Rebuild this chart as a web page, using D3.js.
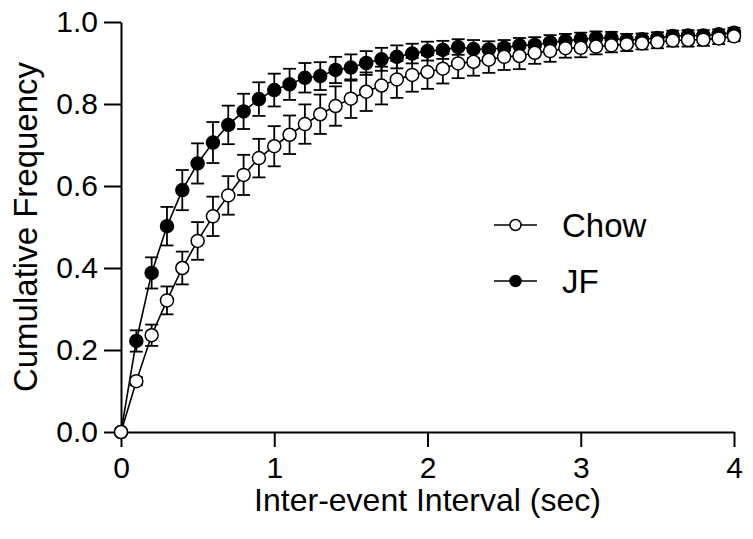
<!DOCTYPE html>
<html>
<head>
<meta charset="utf-8">
<script src="https://cdn.jsdelivr.net/npm/d3@7"></script>
<style>
  body { margin: 0; background: #fff; }
  svg text { font-family: "Liberation Sans", Arial, sans-serif; fill: #000; }
</style>
</head>
<body>
<svg id="chart" width="753" height="539"></svg>
<script>
// x positions (sec)
const intervals = d3.range(0, 41).map((i) => +(i * 0.1).toFixed(1));

const chowMean = [
  0, 0.124, 0.236, 0.321, 0.4, 0.466, 0.526, 0.577, 0.627, 0.668,
  0.697, 0.725, 0.751, 0.775, 0.795, 0.813, 0.83, 0.845, 0.86, 0.871,
  0.878, 0.886, 0.899, 0.903, 0.908, 0.915, 0.917, 0.925, 0.929, 0.936,
  0.937, 0.94, 0.943, 0.946, 0.948, 0.951, 0.955, 0.956, 0.957, 0.96,
  0.965,
];
const chowSem = [
  0, 0.01, 0.026, 0.034, 0.04, 0.046, 0.048, 0.047, 0.049, 0.047,
  0.049, 0.047, 0.048, 0.048, 0.048, 0.047, 0.047, 0.046, 0.045, 0.041,
  0.041, 0.036, 0.036, 0.034, 0.032, 0.032, 0.032, 0.027, 0.026, 0.023,
  0.023, 0.019, 0.017, 0.017, 0.015, 0.015, 0.015, 0.016, 0.015, 0.014,
  0.012,
];
const jfMean = [
  0, 0.222, 0.388, 0.502, 0.59, 0.655, 0.706, 0.749, 0.782, 0.812,
  0.834, 0.848, 0.864, 0.868, 0.883, 0.889, 0.9, 0.909, 0.915, 0.923,
  0.929, 0.932, 0.939, 0.934, 0.933, 0.937, 0.943, 0.944, 0.95, 0.954,
  0.958, 0.961, 0.961, 0.956, 0.958, 0.961, 0.966, 0.967, 0.967, 0.97,
  0.974,
];
const jfSem = [
  0, 0.026, 0.038, 0.047, 0.049, 0.049, 0.05, 0.047, 0.043, 0.041,
  0.04, 0.038, 0.036, 0.034, 0.032, 0.032, 0.029, 0.028, 0.028, 0.024,
  0.023, 0.022, 0.019, 0.022, 0.02, 0.019, 0.018, 0.019, 0.018, 0.017,
  0.016, 0.016, 0.015, 0.015, 0.014, 0.014, 0.013, 0.013, 0.013, 0.012,
  0.012,
];

const xTicks = [0, 1, 2, 3, 4];
const yTicks = [0, 0.2, 0.4, 0.6, 0.8, 1.0];
const seriesNames = ["Chow", "JF"];

const svg = d3.select("#chart");
const margin = { top: 22, right: 19, bottom: 107, left: 121 };
const width = 753 - margin.left - margin.right;
const height = 539 - margin.top - margin.bottom;

const x = d3.scaleLinear().domain([0, 4]).range([0, width]);
const y = d3.scaleLinear().domain([0, 1]).range([height, 0]);

const g = svg.append("g").attr("transform", `translate(${margin.left},${margin.top})`);

// axes
const xAxis = g.append("g")
  .attr("transform", `translate(0,${height})`)
  .call(d3.axisBottom(x).tickValues(xTicks).tickFormat(d3.format("d")).tickSizeInner(15).tickSizeOuter(0).tickPadding(10));
const yAxis = g.append("g")
  .call(d3.axisLeft(y).tickValues(yTicks).tickFormat(d3.format(".1f")).tickSizeInner(17).tickSizeOuter(0).tickPadding(6));

[xAxis, yAxis].forEach((a) => {
  a.selectAll("path, line").attr("stroke", "#000").attr("stroke-width", 2);
  a.selectAll("text").style("font-size", "30px").attr("fill", "#000");
});

// axis labels
g.append("text")
  .attr("x", width / 2)
  .attr("y", height + 79)
  .attr("text-anchor", "middle")
  .style("font-size", "32px")
  .text("Inter-event Interval (sec)");

g.append("text")
  .attr("transform", `translate(${-84},${height / 2}) rotate(-90)`)
  .attr("text-anchor", "middle")
  .style("font-size", "33px")
  .text("Cumulative Frequency");

const series = [
  { name: "JF", mean: jfMean, sem: jfSem, fill: "#000" },
  { name: "Chow", mean: chowMean, sem: chowSem, fill: "#fff" },
];

const line = d3.line().x((d) => x(d[0])).y((d) => y(d[1]));
const capW = 6.5;

series.forEach((s) => {
  const pts = intervals.map((t, i) => [t, s.mean[i], s.sem[i]]);
  const sg = g.append("g");

  sg.append("path")
    .datum(pts)
    .attr("d", line)
    .attr("fill", "none")
    .attr("stroke", "#000")
    .attr("stroke-width", 1.6);

  const eb = sg.selectAll(".eb").data(pts.filter((d) => d[2] > 0)).join("g");
  eb.append("line")
    .attr("x1", (d) => x(d[0])).attr("x2", (d) => x(d[0]))
    .attr("y1", (d) => y(d[1] - d[2])).attr("y2", (d) => y(d[1] + d[2]));
  eb.append("line")
    .attr("x1", (d) => x(d[0]) - capW).attr("x2", (d) => x(d[0]) + capW)
    .attr("y1", (d) => y(d[1] + d[2])).attr("y2", (d) => y(d[1] + d[2]));
  eb.append("line")
    .attr("x1", (d) => x(d[0]) - capW).attr("x2", (d) => x(d[0]) + capW)
    .attr("y1", (d) => y(d[1] - d[2])).attr("y2", (d) => y(d[1] - d[2]));
  eb.selectAll("line").attr("stroke", "#000").attr("stroke-width", 1.8);

  sg.selectAll("circle")
    .data(pts)
    .join("circle")
    .attr("cx", (d) => x(d[0]))
    .attr("cy", (d) => y(d[1]))
    .attr("r", 6.5)
    .attr("fill", s.fill)
    .attr("stroke", "#000")
    .attr("stroke-width", 1.5);
});

// legend
const legend = svg.append("g").attr("transform", "translate(494,225)");
seriesNames.forEach((name, i) => {
  const lg = legend.append("g").attr("transform", `translate(0,${i * 56})`);
  lg.append("line").attr("x1", 0).attr("x2", 43).attr("y1", 0).attr("y2", 0)
    .attr("stroke", "#000").attr("stroke-width", 1.6);
  lg.append("circle").attr("cx", 21.5).attr("cy", 0).attr("r", 5.5)
    .attr("fill", name === "JF" ? "#000" : "#fff")
    .attr("stroke", "#000").attr("stroke-width", 1.5);
  lg.append("text").attr("x", 68).attr("y", 0).attr("dy", "0.36em")
    .style("font-size", "33px").text(name);
});
</script>
</body>
</html>
